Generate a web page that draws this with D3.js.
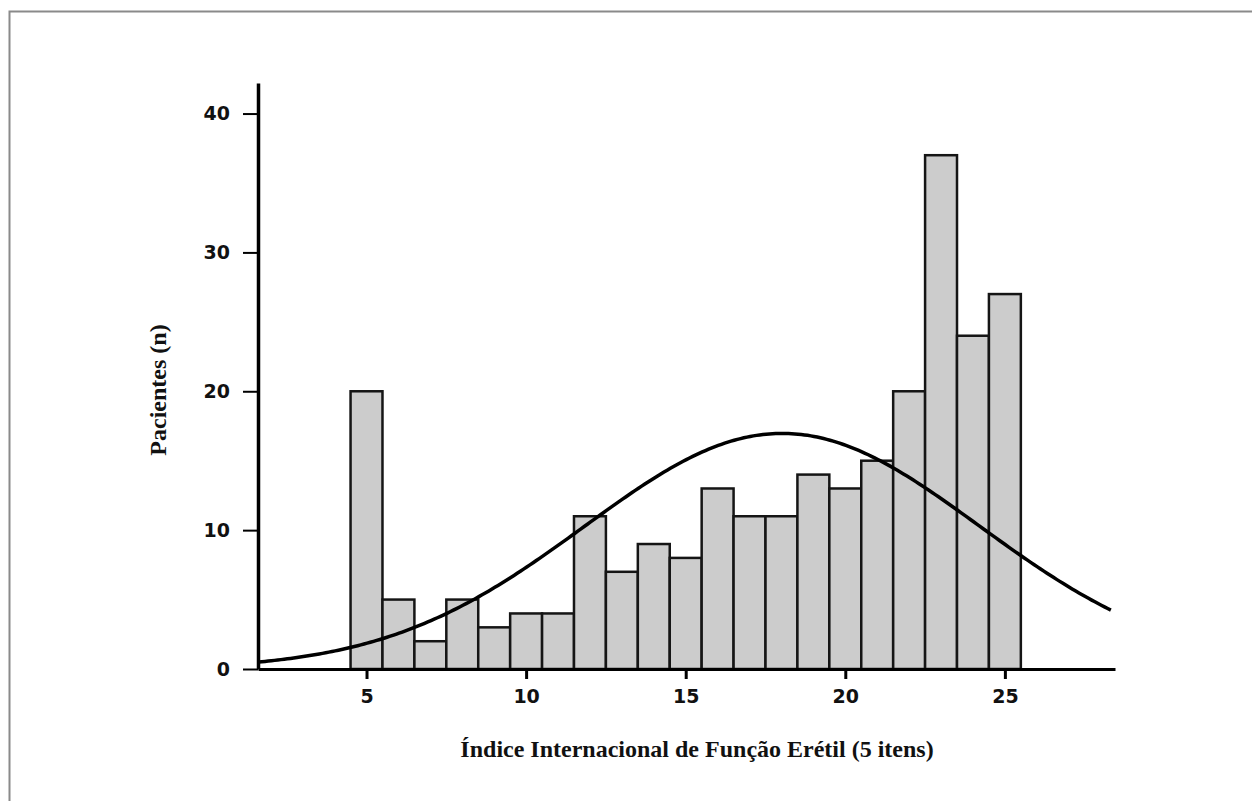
<!DOCTYPE html>
<html>
<head>
<meta charset="utf-8">
<script src="https://cdn.jsdelivr.net/npm/d3@7"></script>
<style>
	body { margin: 0; background: #fff; }
	svg { display: block; }
	.tick text { font-family: "DejaVu Sans", Verdana, sans-serif; font-weight: bold; font-size: 19px; fill: #111; }
	.label { font-family: "Liberation Serif", "Times New Roman", serif; font-weight: bold; font-size: 24px; fill: #111; }
</style>
</head>
<body>
<script>
	//histogram data
	var scores = [5, 6, 7, 8, 9, 10, 11, 12, 13, 14, 15, 16, 17, 18, 19, 20, 21, 22, 23, 24, 25];
	var patients = [20, 5, 2, 5, 3, 4, 4, 11, 7, 9, 8, 13, 11, 11, 14, 13, 15, 20, 37, 24, 27];
	var xTicks = [5, 10, 15, 20, 25];
	var yTicks = [0, 10, 20, 30, 40];

	var W = 1252, H = 801;
	var svg = d3.select("body").append("svg")
		.attr("width", W)
		.attr("height", H);

	//frame (only top and left edges are visible in the original)
	svg.append("path")
		.attr("d", "M9.5," + H + "V11.5H" + W)
		.attr("fill", "none")
		.attr("stroke", "#8a8a8a")
		.attr("stroke-width", 2);

	var x = d3.scaleLinear().domain([1.6, 28.45]).range([258, 1115]);
	var y = d3.scaleLinear().domain([0, 42.2]).range([669, 83]);

	var bars = scores.map(function(s, i) { return {score: s, n: patients[i]}; });

	//bars
	svg.append("g").selectAll("rect")
		.data(bars)
		.enter().append("rect")
		.attr("x", function(d) { return x(d.score - 0.5); })
		.attr("y", function(d) { return y(d.n); })
		.attr("width", function(d) { return x(d.score + 0.5) - x(d.score - 0.5); })
		.attr("height", function(d) { return y(0) - y(d.n); })
		.attr("fill", "#cccccc")
		.attr("stroke", "#151515")
		.attr("stroke-width", 2.5);

	//normal curve fitted to the histogram (mean / sd from the bars)
	var total = d3.sum(patients);
	var mean = d3.sum(bars, function(d) { return d.score * d.n; }) / total;
	var sd = Math.sqrt(d3.sum(bars, function(d) { return d.n * (d.score - mean) * (d.score - mean); }) / (total - 1));
	var curveX = d3.range(1.62, 28.42, 0.1);
	var curve = d3.line()
		.x(function(v) { return x(v); })
		.y(function(v) { return y(total / (sd * Math.sqrt(2 * Math.PI)) * Math.exp(-0.5 * Math.pow((v - mean) / sd, 2))); });
	svg.append("path")
		.datum(curveX)
		.attr("d", curve)
		.attr("fill", "none")
		.attr("stroke", "#000")
		.attr("stroke-width", 3.5);

	//axes
	var xAxis = svg.append("g")
		.attr("transform", "translate(0," + y(0) + ")")
		.call(d3.axisBottom(x).tickValues(xTicks).tickSize(10).tickPadding(11).tickSizeOuter(0));
	xAxis.select(".domain").attr("stroke", "#000").attr("stroke-width", 3);
	xAxis.selectAll(".tick line").attr("stroke", "#000").attr("stroke-width", 3);

	var yAxis = svg.append("g")
		.attr("transform", "translate(" + x(1.6) + ",0)")
		.call(d3.axisLeft(y).tickValues(yTicks).tickSize(15).tickPadding(13).tickSizeOuter(0));
	yAxis.select(".domain").attr("stroke", "#000").attr("stroke-width", 3.5);
	yAxis.selectAll(".tick line").attr("stroke", "#000").attr("stroke-width", 2);

	//titles
	svg.append("text")
		.attr("class", "label")
		.attr("text-anchor", "middle")
		.attr("x", 697)
		.attr("y", 757)
		.text("Índice Internacional de Função Erétil (5 itens)");

	svg.append("text")
		.attr("class", "label")
		.attr("text-anchor", "middle")
		.attr("transform", "translate(166,390) rotate(-90)")
		.text("Pacientes (n)");
</script>
</body>
</html>
